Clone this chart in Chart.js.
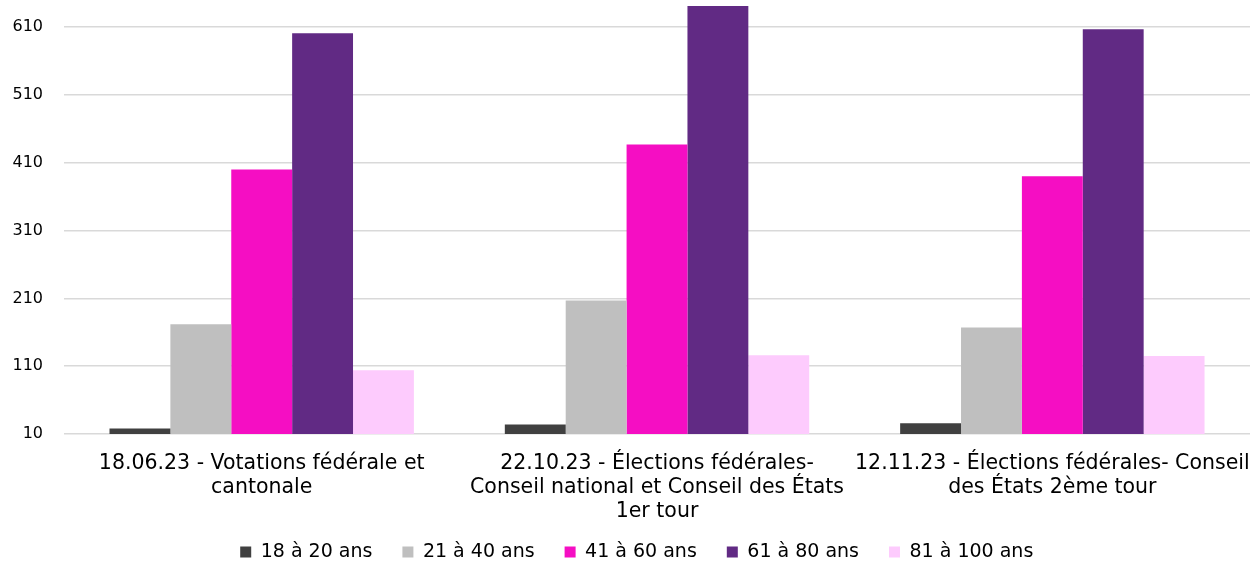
<!DOCTYPE html>
<html>
<head>
<meta charset="utf-8">
<script src="https://cdn.jsdelivr.net/npm/chart.js@4"></script>
<style>
  html, body { margin: 0; padding: 0; background: #fff; }
  #wrap { width: 1252px; height: 563px; }
</style>
</head>
<body>
<div id="wrap"><canvas id="chart"></canvas></div>
<script>
// scrutins
const scrutins = [
  ['18.06.23 - Votations fédérale et', 'cantonale'],
  ['22.10.23 - Élections fédérales-', 'Conseil national et Conseil des États', '1er tour'],
  ['12.11.23 - Élections fédérales- Conseil', 'des États 2ème tour']
]
const ages18_20 = [18, 24, 26]
const ages21_40 = [172, 207, 167]
const ages41_60 = [400, 437, 390]
const ages61_80 = [601, 641, 607]
const ages81_100 = [104, 126, 125]
const ticksY = [10, 110, 210, 310, 410, 510, 610]

const police = "'DejaVu Sans', sans-serif"

// décale un peu la légende vers la droite
const decalLegende = {
  id: 'decalLegende',
  afterLayout(chart) { chart.legend.left += 32 }
}

new Chart(document.getElementById('chart'), {
  type: 'bar',
  data: {
    labels: scrutins,
    datasets: [
      { label: '18 à 20 ans', data: ages18_20, backgroundColor: '#404040' },
      { label: '21 à 40 ans', data: ages21_40, backgroundColor: '#BFBFBF' },
      { label: '41 à 60 ans', data: ages41_60, backgroundColor: '#F50EC3' },
      { label: '61 à 80 ans', data: ages61_80, backgroundColor: '#612A84' },
      { label: '81 à 100 ans', data: ages81_100, backgroundColor: '#FDCBFD' }
    ]
  },
  options: {
    responsive: true,
    maintainAspectRatio: false,
    animation: false,
    layout: { padding: { left: -8.5, right: 2, top: 0, bottom: -8.5 } },
    datasets: { bar: { categoryPercentage: 0.77, barPercentage: 1 } },
    scales: {
      x: {
        grid: { display: false },
        border: { display: false },
        // libellés longs : on les laisse déborder comme dans l'original
        afterFit: axis => {
          axis.height = 78.5
          axis.paddingLeft = 0
          axis.paddingRight = 0
          axis._computeLabelArea = () => null
        },
        ticks: {
          color: '#000',
          maxRotation: 0,
          autoSkip: false,
          padding: 10,
          font: { family: police, size: 20.5, lineHeight: 1.17 }
        }
      },
      y: {
        min: 10,
        max: 650,
        afterBuildTicks: axis => { axis.ticks = ticksY.map(v => ({ value: v })) },
        afterFit: axis => { axis.paddingTop = 0; axis.paddingBottom = 0 },
        grid: { color: '#D9D9D9', lineWidth: 1.5, drawTicks: false },
        border: { display: false },
        ticks: {
          color: '#000',
          padding: 21,
          font: { family: police, size: 16 }
        }
      }
    },
    plugins: {
      legend: {
        position: 'bottom',
        labels: {
          color: '#000',
          boxWidth: 11,
          boxHeight: 11,
          padding: 30,
          font: { family: police, size: 19 }
        }
      },
      tooltip: { enabled: false }
    }
  },
  plugins: [decalLegende]
})
</script>
</body>
</html>
